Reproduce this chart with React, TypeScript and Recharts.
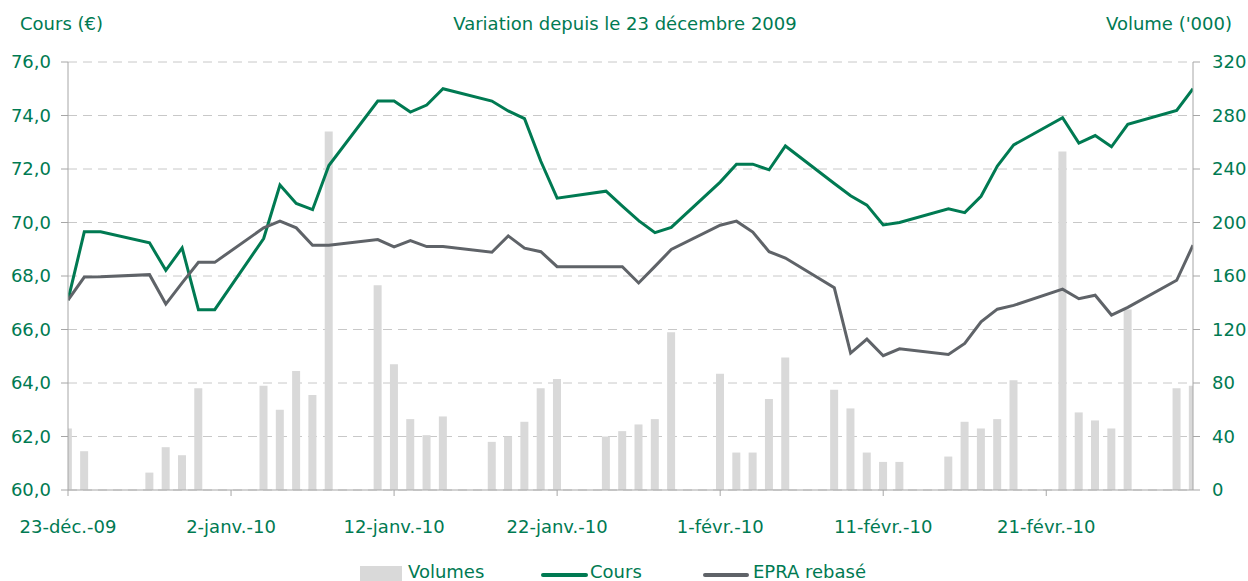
import { Bar, CartesianGrid, ComposedChart, Legend, Line, XAxis, YAxis } from "recharts";

// Séances (y compris 25/12 et 01/01, cours reportés, volume nul)
const dates = [
  "2009-12-23", "2009-12-24", "2009-12-25", "2009-12-28", "2009-12-29", "2009-12-30", "2009-12-31",
  "2010-01-01", "2010-01-04", "2010-01-05", "2010-01-06", "2010-01-07", "2010-01-08", "2010-01-11",
  "2010-01-12", "2010-01-13", "2010-01-14", "2010-01-15", "2010-01-18", "2010-01-19", "2010-01-20",
  "2010-01-21", "2010-01-22", "2010-01-25", "2010-01-26", "2010-01-27", "2010-01-28", "2010-01-29",
  "2010-02-01", "2010-02-02", "2010-02-03", "2010-02-04", "2010-02-05", "2010-02-08", "2010-02-09",
  "2010-02-10", "2010-02-11", "2010-02-12", "2010-02-15", "2010-02-16", "2010-02-17", "2010-02-18",
  "2010-02-19", "2010-02-22", "2010-02-23", "2010-02-24", "2010-02-25", "2010-02-26", "2010-03-01",
  "2010-03-02",
];

const volumes = [
  46, 29, 0, 13, 32, 26, 76,
  0, 78, 60, 89, 71, 268, 153,
  94, 53, 41, 55, 36, 40, 51,
  76, 83, 40, 44, 49, 53, 118,
  87, 28, 28, 68, 99, 75, 61,
  28, 21, 21, 25, 51, 46, 53,
  82, 253, 58, 52, 46, 135, 76,
  78,
];

const cours = [
  67.1, 69.65, 69.65, 69.24, 68.21, 69.05, 66.74,
  66.74, 69.4, 71.4, 70.71, 70.48, 72.13, 74.54,
  74.54, 74.13, 74.39, 75.0, 74.54, 74.17, 73.88,
  72.29, 70.91, 71.17, 70.61, 70.07, 69.62, 69.82,
  71.51, 72.18, 72.18, 71.97, 72.86, 71.46, 71.0,
  70.65, 69.91, 70.0, 70.51, 70.37, 70.98, 72.11,
  72.9, 73.92, 72.97, 73.25, 72.83, 73.67, 74.19,
  75.0,
];

const epra = [
  67.1, 67.96, 67.97, 68.05, 66.95, 67.74, 68.51,
  68.51, 69.8, 70.05, 69.8, 69.15, 69.15, 69.36,
  69.09, 69.32, 69.1, 69.1, 68.89, 69.5, 69.04,
  68.91, 68.35, 68.35, 68.35, 67.74, 68.36, 68.99,
  69.9, 70.05, 69.64, 68.91, 68.67, 67.56, 65.12,
  65.64, 65.02, 65.28, 65.07, 65.48, 66.29, 66.76,
  66.9, 67.51, 67.15, 67.28, 66.54, 66.83, 67.84,
  69.15,
];

const xTicks = [0, 10, 20, 30, 40, 50, 60];
const xTickLabels = ["23-déc.-09", "2-janv.-10", "12-janv.-10", "22-janv.-10", "1-févr.-10", "11-févr.-10", "21-févr.-10"];
const leftTicks = [60, 62, 64, 66, 68, 70, 72, 74, 76];
const rightTicks = [0, 40, 80, 120, 160, 200, 240, 280, 320];

const GREEN = "#007A52";
const GREY_LINE = "#5F6368";
const BAR = "#D9D9D9";
const AXIS = "#A6A6A6";
const FONT = "Tahoma, 'DejaVu Sans', sans-serif";

const DAY = 86400000;
const start = Date.parse(dates[0]);
const data = dates.map((d, i) => ({
  day: Math.round((Date.parse(d) - start) / DAY),
  volumes: volumes[i],
  cours: cours[i],
  epra: epra[i],
}));

const tickStyle = { fill: GREEN, fontSize: 18, fontFamily: FONT } as const;

const renderLegend = () => (
  <div style={{ position: "relative", height: 20, fontFamily: FONT, fontSize: 18, color: GREEN, lineHeight: "20px" }}>
    <span style={{ position: "absolute", left: 360, top: 4, width: 42, height: 16, background: BAR }} />
    <span style={{ position: "absolute", left: 408, top: 0 }}>Volumes</span>
    <span style={{ position: "absolute", left: 541, top: 11, width: 47, height: 4, borderRadius: 2, background: GREEN }} />
    <span style={{ position: "absolute", left: 590, top: 0 }}>Cours</span>
    <span style={{ position: "absolute", left: 703, top: 11, width: 46, height: 4, borderRadius: 2, background: GREY_LINE }} />
    <span style={{ position: "absolute", left: 753, top: 0 }}>EPRA rebasé</span>
  </div>
);

export default function App() {
  return (
    <div style={{ position: "absolute", left: 0, top: 0, width: 1248, height: 581, background: "#fff", fontFamily: FONT }}>
      <div style={{ position: "absolute", left: 20, top: 14, fontSize: 18, lineHeight: "20px", color: GREEN }}>Cours (€)</div>
      <div style={{ position: "absolute", left: 0, width: 1250, top: 14, textAlign: "center", fontSize: 18, lineHeight: "20px", color: GREEN }}>
        Variation depuis le 23 décembre 2009
      </div>
      <div style={{ position: "absolute", right: 16, top: 14, fontSize: 18, lineHeight: "20px", color: GREEN }}>Volume ('000)</div>
      <ComposedChart width={1248} height={581} data={data} margin={{ top: 62, right: 0, bottom: 51, left: 0 }}>
        <CartesianGrid yAxisId="left" vertical={false} stroke="#C8C8C8" strokeDasharray="9 6" />
        <XAxis
          dataKey="day"
          type="number"
          domain={[0, 69]}
          allowDataOverflow
          ticks={xTicks}
          interval={0}
          tickFormatter={(v) => xTickLabels[xTicks.indexOf(v as number)]}
          tick={tickStyle}
          height={40}
          tickSize={6}
          tickMargin={24}
          stroke={AXIS}
        />
        <YAxis
          yAxisId="left"
          orientation="left"
          domain={[60, 76]}
          ticks={leftTicks}
          interval={0}
          tickFormatter={(v) => (v as number).toFixed(1).replace(".", ",")}
          tick={tickStyle}
          width={68}
          tickSize={7}
          tickMargin={10}
          stroke={AXIS}
        />
        <YAxis
          yAxisId="right"
          orientation="right"
          domain={[0, 320]}
          ticks={rightTicks}
          interval={0}
          tick={tickStyle}
          width={55}
          tickSize={7}
          tickMargin={12}
          stroke={AXIS}
        />
        <Legend
          layout="horizontal"
          verticalAlign="middle"
          align="center"
          content={renderLegend}
          wrapperStyle={{ top: 562, left: 0, width: 1248 }}
        />
        <Bar yAxisId="right" dataKey="volumes" name="Volumes" fill={BAR} barSize={8} isAnimationActive={false} />
        <Line yAxisId="left" type="linear" dataKey="cours" name="Cours" stroke={GREEN} strokeWidth={3} dot={false} isAnimationActive={false} />
        <Line yAxisId="left" type="linear" dataKey="epra" name="EPRA rebasé" stroke={GREY_LINE} strokeWidth={3} dot={false} isAnimationActive={false} />
      </ComposedChart>
    </div>
  );
}
